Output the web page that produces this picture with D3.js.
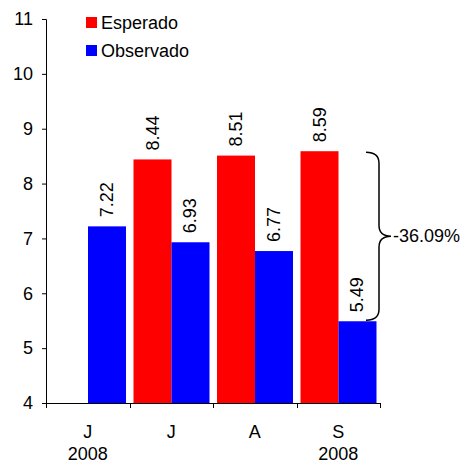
<!DOCTYPE html>
<html><head><meta charset="utf-8">
<script src="https://cdn.jsdelivr.net/npm/d3@7"></script>
<style>body{margin:0;background:#fff}svg{display:block}text{font-family:"Liberation Sans",Arial,sans-serif}</style>
</head><body>
<script>
const categories = ["J", "J", "A", "S"];
const yearLabels = ["2008", "", "", "2008"];
const series = ["Esperado", "Observado"];
const colors = ["#ff0000", "#0000ff"];
const esperado = [null, 8.44, 8.51, 8.59];
const observado = [7.22, 6.93, 6.77, 5.49];
const yTicks = [4, 5, 6, 7, 8, 9, 10, 11];
const braceLabel = "-36.09%";

const W = 461, H = 464, FS = 18;
const svg = d3.select("body").append("svg").attr("width", W).attr("height", H);

const x0 = d3.scaleBand().domain(d3.range(categories.length)).range([46, 380]).padding(0);
const x1 = d3.scaleBand().domain(series).range([x0.bandwidth() * 0.048, x0.bandwidth() * 0.958]).padding(0);
const y = d3.scaleLinear().domain([4, 11]).range([403, 19]);

// y axis
const yAxis = d3.axisLeft(y).tickValues(yTicks).tickSize(4).tickPadding(9).tickFormat(d3.format("d"));
const gy = svg.append("g").attr("transform", "translate(46,0)").call(yAxis);
gy.selectAll("text").attr("font-size", FS).attr("fill", "#000").attr("font-family", "Liberation Sans, Arial, sans-serif");
gy.selectAll("line, path").attr("stroke", "#000");

// x axis line with ticks at boundaries
const gx = svg.append("g");
gx.append("line").attr("x1", 46).attr("x2", 380).attr("y1", 403.5).attr("y2", 403.5).attr("stroke", "#000");
const bounds = d3.range(categories.length + 1).map(i => i < categories.length ? x0(i) : x0(i - 1) + x0.bandwidth());
gx.selectAll("line.tk").data(bounds).join("line").attr("class", "tk")
  .attr("x1", d => Math.round(d) + 0.5).attr("x2", d => Math.round(d) + 0.5)
  .attr("y1", 403).attr("y2", 408).attr("stroke", "#000");
gx.selectAll("text.cat").data(categories).join("text").attr("class", "cat")
  .attr("x", (d, i) => x0(i) + x0.bandwidth() / 2).attr("y", 438)
  .attr("text-anchor", "middle").attr("font-size", FS).text(d => d);
gx.selectAll("text.yr").data(yearLabels).join("text").attr("class", "yr")
  .attr("x", (d, i) => x0(i) + x0.bandwidth() / 2).attr("y", 460)
  .attr("text-anchor", "middle").attr("font-size", FS).text(d => d);

// bars
const seriesData = [esperado, observado];
seriesData.forEach((vals, si) => {
  const g = svg.append("g");
  const pts = vals.map((v, i) => ({v, i})).filter(d => d.v != null);
  g.selectAll("rect").data(pts).join("rect")
    .attr("x", d => x0(d.i) + x1(series[si]))
    .attr("width", x1.bandwidth())
    .attr("y", d => y(d.v))
    .attr("height", d => y(4) - y(d.v))
    .attr("fill", colors[si]);
  g.selectAll("text").data(pts).join("text")
    .attr("transform", d => `translate(${x0(d.i) + x1(series[si]) + x1.bandwidth() / 2 + 6},${y(d.v) - 9}) rotate(-90)`)
    .attr("font-size", FS).attr("text-anchor", "start").text(d => d.v.toFixed(2));
});

// legend
const leg = svg.append("g");
series.forEach((s, i) => {
  leg.append("rect").attr("x", 86).attr("y", 17 + i * 28).attr("width", 11).attr("height", 11).attr("fill", colors[i]);
  leg.append("text").attr("x", 101).attr("y", 29 + i * 28).attr("font-size", FS).text(s);
});

// brace
const yTop = y(esperado[3]), yBot = y(observado[3]);
const yMid = (yTop + yBot) / 2;
const bx = 366, bv = 379, btip = 391;
const p = d3.path();
p.moveTo(bx, yTop + 1);
p.quadraticCurveTo(bv, yTop + 1, bv, yTop + 12);
p.lineTo(bv, yMid - 11);
p.quadraticCurveTo(bv, yMid, btip, yMid);
p.quadraticCurveTo(bv, yMid, bv, yMid + 11);
p.lineTo(bv, yBot - 12);
p.quadraticCurveTo(bv, yBot - 1, bx, yBot - 1);
svg.append("path").attr("d", p.toString()).attr("fill", "none").attr("stroke", "#000").attr("stroke-width", 1.5);
svg.append("text").attr("x", 393).attr("y", yMid + 6).attr("font-size", FS).text(braceLabel);
</script>
</body></html>
